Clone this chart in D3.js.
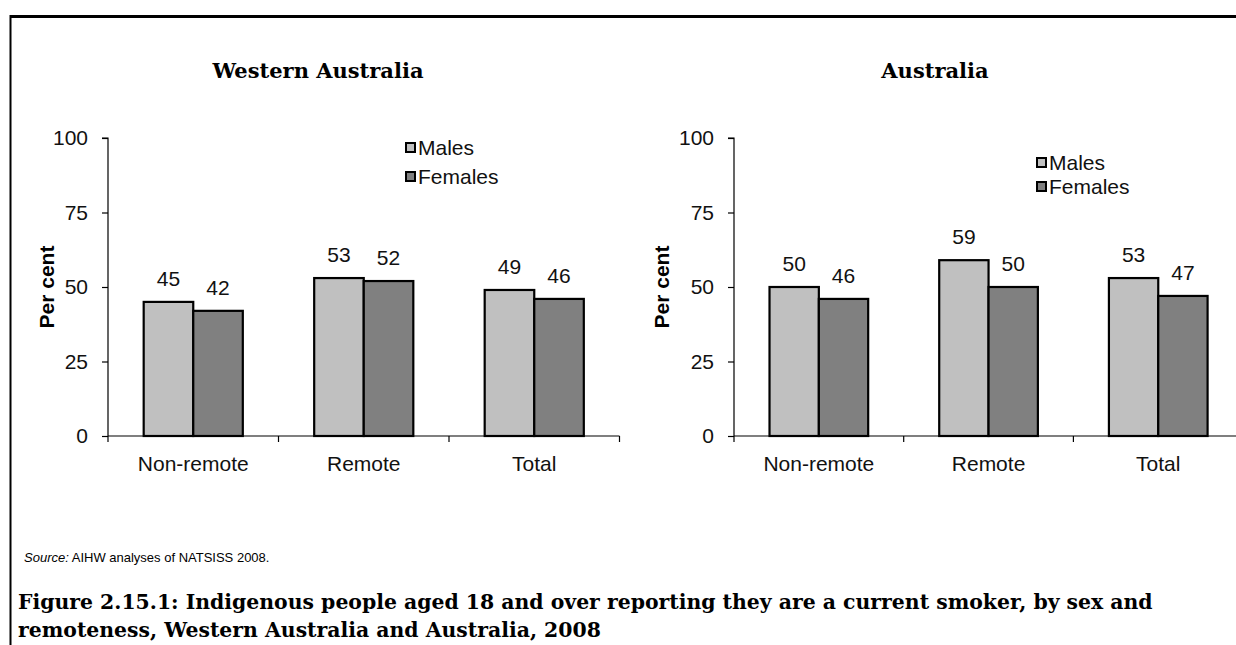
<!DOCTYPE html>
<html>
<head>
<meta charset="utf-8">
<script src="https://cdn.jsdelivr.net/npm/d3@7"></script>
<style>
  html, body { margin: 0; padding: 0; background: #fff; }
  svg { display: block; }
</style>
</head>
<body>
<svg id="fig" width="1236" height="645"></svg>
<script>
// Current smokers (%), Indigenous people aged 18+, 2008
const categories = ["Non-remote", "Remote", "Total"];
const seriesNames = ["Males", "Females"];
const waMales = [45, 53, 49];
const waFemales = [42, 52, 46];
const ausMales = [50, 59, 53];
const ausFemales = [46, 50, 47];
const yTicks = [0, 25, 50, 75, 100];

const colors = { Males: "#c0c0c0", Females: "#808080" };
const sans = "Liberation Sans, Arial, sans-serif";
const serif = "'Palatino Linotype', 'Book Antiqua', Palatino, 'DejaVu Serif', serif";
const fs = 21;

const svg = d3.select("#fig");

// page frame: top rule and left rule
svg.append("line").attr("x1", 10).attr("x2", 1236).attr("y1", 16.5).attr("y2", 16.5)
  .attr("stroke", "#000").attr("stroke-width", 3);
svg.append("line").attr("x1", 10.5).attr("x2", 10.5).attr("y1", 15).attr("y2", 645)
  .attr("stroke", "#000").attr("stroke-width", 2);

function panel(opts) {
  const { title, titleX, x0, band, males, females, legendX, legendY, legendGap, yLabelX } = opts;
  const y = d3.scaleLinear().domain([0, 100]).range([436, 138]);
  const x = d3.scaleBand().domain(categories).range([x0, x0 + band * 3]).paddingInner(0).paddingOuter(0);
  const inner = d3.scaleBand().domain(seriesNames).range([0, x.bandwidth()]).paddingOuter(0.72).paddingInner(0);

  const g = svg.append("g");

  g.append("text").attr("x", titleX).attr("y", 78).attr("text-anchor", "middle")
    .attr("font-family", serif).attr("font-weight", "bold").attr("font-size", 21).text(title);

  // y axis
  const yAxis = d3.axisLeft(y).tickValues(yTicks).tickSize(6).tickPadding(14);
  const ya = g.append("g").attr("transform", `translate(${x0},0)`).call(yAxis);
  ya.select(".domain").attr("d", `M-6,${y(100)}H0V${y(0)}`).attr("stroke", "#000").attr("stroke-width", 1.2);
  ya.selectAll(".tick line").attr("stroke", "#000").attr("stroke-width", 1.2);
  ya.selectAll(".tick text").attr("font-family", sans).attr("font-size", fs).attr("fill", "#111");

  g.append("text").attr("transform", `translate(${yLabelX},${y(50)}) rotate(-90)`)
    .attr("text-anchor", "middle").attr("dy", "0.35em")
    .attr("font-family", sans).attr("font-weight", "bold").attr("font-size", fs).text("Per cent");

  // bars
  const rows = categories.map((c, i) => ({ cat: c, Males: males[i], Females: females[i] }));
  const grp = g.selectAll(".grp").data(rows).join("g").attr("transform", d => `translate(${x(d.cat)},0)`);
  grp.selectAll("rect").data(d => seriesNames.map(s => ({ s, v: d[s] }))).join("rect")
    .attr("x", d => inner(d.s)).attr("width", inner.bandwidth())
    .attr("y", d => y(d.v)).attr("height", d => y(0) - y(d.v))
    .attr("fill", d => colors[d.s]).attr("stroke", "#000").attr("stroke-width", 2.2);
  grp.selectAll("text.val").data(d => seriesNames.map(s => ({ s, v: d[s] }))).join("text")
    .attr("class", "val")
    .attr("x", d => inner(d.s) + inner.bandwidth() / 2).attr("y", d => y(d.v) - 16)
    .attr("text-anchor", "middle").attr("font-family", sans).attr("font-size", fs).attr("fill", "#111")
    .text(d => d.v);

  // x axis
  const xa = g.append("g").attr("transform", `translate(0,${y(0)})`);
  const xEnd = Math.min(x0 + band * 3, 1236);
  xa.append("line").attr("x1", x0).attr("x2", xEnd).attr("stroke", "#000").attr("stroke-width", 1.2);
  const bounds = d3.range(4).map(i => x0 + band * i).filter(v => v <= 1236);
  xa.selectAll("line.tk").data(bounds).join("line").attr("class", "tk")
    .attr("x1", d => d).attr("x2", d => d).attr("y1", 0).attr("y2", 6)
    .attr("stroke", "#000").attr("stroke-width", 1.2);
  xa.selectAll("text").data(categories).join("text")
    .attr("x", d => x(d) + x.bandwidth() / 2).attr("y", 35).attr("text-anchor", "middle")
    .attr("font-family", sans).attr("font-size", fs).attr("fill", "#111").text(d => d);

  // legend
  const lg = g.append("g").attr("transform", `translate(${legendX},${legendY})`);
  const items = lg.selectAll("g").data(seriesNames).join("g").attr("transform", (d, i) => `translate(0,${i * legendGap})`);
  items.append("rect").attr("x", 1).attr("y", -5).attr("width", 9).attr("height", 9)
    .attr("fill", d => colors[d]).attr("stroke", "#000").attr("stroke-width", 2);
  items.append("text").attr("x", 13).attr("y", 0).attr("dy", "0.35em")
    .attr("font-family", sans).attr("font-size", fs).attr("fill", "#111").text(d => d);
}

panel({ title: "Western Australia", titleX: 318, x0: 108, band: 170.5, males: waMales, females: waFemales,
        legendX: 405, legendY: 148, legendGap: 29, yLabelX: 47 });
panel({ title: "Australia", titleX: 935, x0: 734, band: 169.7, males: ausMales, females: ausFemales,
        legendX: 1036, legendY: 163, legendGap: 24, yLabelX: 662 });

// source note and figure caption
const src = svg.append("text").attr("x", 24).attr("y", 562).attr("font-family", sans).attr("font-size", 13);
src.append("tspan").attr("font-style", "italic").text("Source:");
src.append("tspan").text(" AIHW analyses of NATSISS 2008.");

const cap = svg.append("text").attr("font-family", serif).attr("font-weight", "bold").attr("font-size", 20.4);
cap.append("tspan").attr("x", 18).attr("y", 609)
  .text("Figure 2.15.1: Indigenous people aged 18 and over reporting they are a current smoker, by sex and");
cap.append("tspan").attr("x", 18).attr("y", 637)
  .text("remoteness, Western Australia and Australia, 2008");
</script>
</body>
</html>
